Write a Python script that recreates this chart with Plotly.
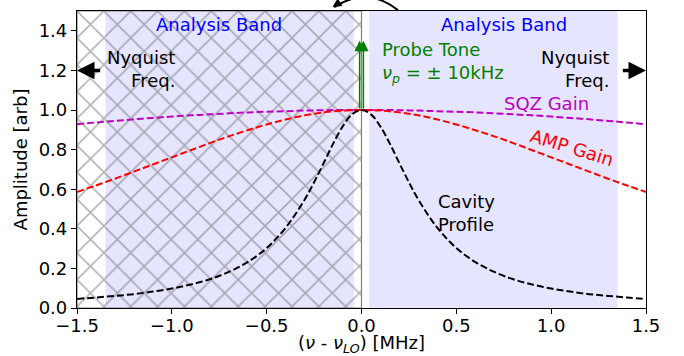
import plotly.graph_objects as go

# ---- data ----
freq_cav = [-1.5, -1.4, -1.3, -1.2, -1.1, -1.0, -0.9, -0.8, -0.7, -0.6, -0.5, -0.4, -0.3,
            -0.25, -0.2, -0.15, -0.1, -0.05, 0.0, 0.05, 0.1, 0.15, 0.2, 0.25,
            0.3, 0.4, 0.5, 0.6, 0.7, 0.8, 0.9, 1.0, 1.1, 1.2, 1.3, 1.4, 1.5]
cavity = [0.046, 0.053, 0.061, 0.070, 0.083, 0.098, 0.119, 0.145, 0.182, 0.232, 0.303, 0.405, 0.547,
          0.635, 0.731, 0.829, 0.916, 0.978, 1.000, 0.978, 0.916, 0.829, 0.731, 0.635,
          0.547, 0.405, 0.303, 0.232, 0.182, 0.145, 0.119, 0.098, 0.083, 0.070, 0.061, 0.053, 0.046]

freq = [-1.5, -1.4, -1.3, -1.2, -1.1, -1.0, -0.9, -0.8, -0.7, -0.6, -0.5, -0.4, -0.3, -0.2, -0.1,
        0.0, 0.1, 0.2, 0.3, 0.4, 0.5, 0.6, 0.7, 0.8, 0.9, 1.0, 1.1, 1.2, 1.3, 1.4, 1.5]
amp_gain = [0.586, 0.619, 0.653, 0.689, 0.725, 0.761, 0.797, 0.833, 0.867, 0.898, 0.927, 0.952, 0.973, 0.988, 0.997,
            1.000, 0.997, 0.988, 0.973, 0.952, 0.927, 0.898, 0.867, 0.833, 0.797, 0.761, 0.725, 0.689, 0.653, 0.619, 0.586]
sqz_gain = [0.928, 0.937, 0.945, 0.953, 0.960, 0.967, 0.973, 0.978, 0.983, 0.988, 0.991, 0.994, 0.997, 0.999, 1.000,
            1.000, 1.000, 0.999, 0.997, 0.994, 0.991, 0.988, 0.983, 0.978, 0.973, 0.967, 0.960, 0.953, 0.945, 0.937, 0.928]

analysis_bands = [(-1.35, -0.04), (0.04, 1.35)]
hatch_region = (-1.5, 0.0)
probe_freqs = [-0.01, 0.01]
probe_amp = (1.0, 1.35)
nyquist = [-1.5, 1.5]

x_ticks = [-1.5, -1.0, -0.5, 0.0, 0.5, 1.0, 1.5]
y_ticks = [0.0, 0.2, 0.4, 0.6, 0.8, 1.0, 1.2, 1.4]

FONT = "DejaVu Sans"
FS = 18
dash = "7px,3px"
LW = 2

fig = go.Figure()

# hatched region
hx0, hx1 = hatch_region
fig.add_trace(go.Scatter(
    x=[hx0, hx1, hx1, hx0, hx0], y=[0, 0, 1.5, 1.5, 0],
    fill="toself", mode="lines",
    line=dict(color="grey", width=1.2),
    fillcolor="rgba(0,0,0,0)",
    fillpattern=dict(shape="x", fgcolor="#6a6a6a", bgcolor="rgba(0,0,0,0)", size=19, solidity=0.16),
    hoverinfo="skip", showlegend=False))

fig.add_trace(go.Scatter(x=freq, y=sqz_gain, mode="lines", line=dict(color="#bf00bf", width=LW, dash=dash, shape="spline"), showlegend=False))
fig.add_trace(go.Scatter(x=freq, y=amp_gain, mode="lines", line=dict(color="red", width=LW, dash=dash, shape="spline"), showlegend=False))
fig.add_trace(go.Scatter(x=freq_cav, y=cavity, mode="lines", line=dict(color="black", width=LW, dash=dash, shape="spline"), showlegend=False))

shapes = []
for a, b in analysis_bands:
    shapes.append(dict(type="rect", xref="x", yref="y", x0=a, x1=b, y0=0, y1=1.5,
                       fillcolor="rgba(0,0,255,0.1)", line=dict(width=0), layer="below"))
# curved arrow above plot
shapes.append(dict(type="path", xref="paper", yref="paper",
                   path="M 0.564,1.003 Q 0.51,1.085 0.452,1.013",
                   line=dict(color="black", width=2)))
fig.update_layout(shapes=shapes)

ann = []
def txt(x, y, t, color="black", align="center", xanchor="center", angle=0, xref="x", yref="y"):
    ann.append(dict(x=x, y=y, xref=xref, yref=yref, text=t, showarrow=False,
                    font=dict(family=FONT, size=FS, color=color), align=align,
                    xanchor=xanchor, yanchor="middle", textangle=angle))

txt(-0.75, 1.43, "Analysis Band", color="blue")
txt(0.75, 1.43, "Analysis Band", color="blue")
txt(-0.975, 1.205, "Nyquist<br>Freq.", align="right", xanchor="right")
txt(1.315, 1.205, "Nyquist<br>Freq.", align="right", xanchor="right")
txt(0.095, 1.24, "Probe Tone<br><i>ν</i><sub><i>p</i></sub> = ± 10kHz", color="green", align="left", xanchor="left")
txt(0.975, 1.035, "SQZ Gain", color="#bf00bf")
txt(1.11, 0.81, "AMP Gain", color="red", angle=17)
txt(0.395, 0.48, "Cavity<br>Profile", align="left", xanchor="left")
# x-axis title
txt(0.5, -0.12, "(<i>ν</i> - <i>ν</i><sub><i>LO</i></sub>) [MHz]", xref="paper", yref="paper")

# probe tone arrows
for f in probe_freqs:
    ann.append(dict(x=f, y=probe_amp[1], ax=f, ay=probe_amp[0], xref="x", yref="y", axref="x", ayref="y",
                    text="", showarrow=True, arrowhead=2, arrowsize=1.4, arrowwidth=1.5, arrowcolor="green"))
# nyquist arrows
ann.append(dict(x=nyquist[0], y=1.2, ax=-1.37, ay=1.2, xref="x", yref="y", axref="x", ayref="y",
                text="", showarrow=True, arrowhead=2, arrowsize=1, arrowwidth=3.5, arrowcolor="black"))
ann.append(dict(x=nyquist[1], y=1.2, ax=1.37, ay=1.2, xref="x", yref="y", axref="x", ayref="y",
                text="", showarrow=True, arrowhead=2, arrowsize=1, arrowwidth=3.5, arrowcolor="black"))
# head of curved arrow
ann.append(dict(x=0.449, y=1.0135, xref="paper", yref="paper", ax=8, ay=-5,
                text="", showarrow=True, arrowhead=2, arrowsize=1, arrowwidth=1.8, arrowcolor="black"))

fig.update_layout(
    annotations=ann,
    width=684, height=356,
    margin=dict(l=77, r=38, t=11, b=48),
    paper_bgcolor="white", plot_bgcolor="white",
    font=dict(family=FONT, size=FS, color="black"),
    xaxis=dict(range=[-1.5, 1.5], tickvals=x_ticks, tickformat=".1f", ticks="outside", ticklen=5,
               tickwidth=1, tickcolor="black", showgrid=False, zeroline=False, automargin=False,
               ticklabelstandoff=-4,
               showline=True, linecolor="black", linewidth=1.2, mirror=True),
    yaxis=dict(range=[0, 1.5], tickvals=y_ticks, tickformat=".1f", ticks="outside", ticklen=5,
               tickwidth=1, tickcolor="black", showgrid=False, zeroline=False, automargin=False,
               showline=True, linecolor="black", linewidth=1.2, mirror=True,
               title=dict(text="Amplitude [arb]", standoff=6, font=dict(family=FONT, size=FS))),
)

fig.write_html("out.html")
